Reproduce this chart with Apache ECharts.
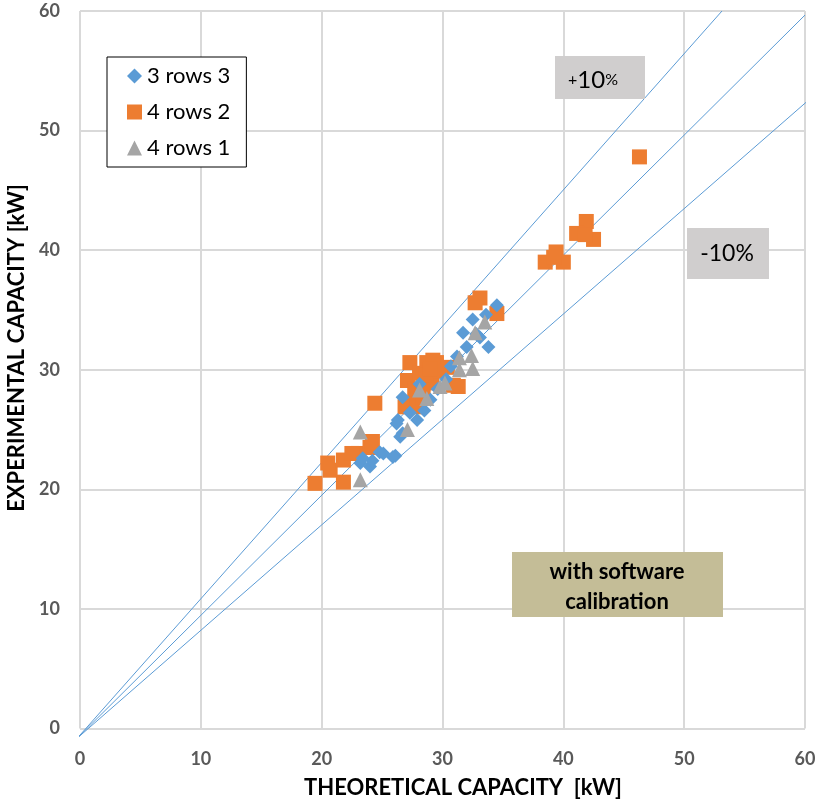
<!DOCTYPE html>
<html>
<head>
<meta charset="utf-8">
<script src="https://cdn.jsdelivr.net/npm/echarts@6/dist/echarts.min.js"></script>
<style>html,body{margin:0;padding:0;background:#fff}#c{width:820px;height:807px}</style>
</head>
<body>
<div id="c"></div>
<script>
// ---- data ----
var xTicks = [0, 10, 20, 30, 40, 50, 60];
var yTicks = [0, 10, 20, 30, 40, 50, 60];
var rows3_3 = [
  [23.2,22.2],[24.0,21.9],[24.8,23.1],[26.1,22.8],[26.3,25.8],[26.7,24.7],
  [26.2,25.5],[26.5,24.4],[27.3,26.4],[27.9,25.8],[26.7,27.7],[28.5,26.6],
  [29.0,27.5],[29.6,28.4],[30.3,29.2],[31.7,33.1],[33.8,31.9],[34.5,35.4],
  [32.5,34.2],[32.0,31.9],[33.1,32.7],[31.2,31.1],[25.1,23.0],[24.2,22.4],
  [23.4,22.6],[25.9,22.7],[28.1,28.8],[30.7,30.3],[33.6,34.6],[32.8,33.0]
];
var rows4_2 = [
  [19.45,20.5],[20.7,21.6],[20.5,22.2],[21.8,20.6],[21.8,22.45],[23.0,23.0],
  [24.0,23.5],[24.2,24.0],[22.5,23.0],[24.4,27.2],[27.3,30.6],[28.7,30.6],
  [29.5,30.6],[27.1,29.1],[31.3,28.6],[27.3,27.2],[27.9,27.7],[30.4,30.2],
  [29.1,28.9],[26.9,26.9],[27.9,26.9],[28.4,27.7],[29.2,30.8],[28.1,29.7],
  [28.6,29.6],[29.8,29.9],[27.7,28.4],[28.3,28.3],[30.9,28.7],[29.0,30.1],
  [33.1,36.0],[34.5,34.7],[32.7,35.6],[46.3,47.8],[41.9,42.4],[41.1,41.4],
  [42.5,40.9],[41.8,41.3],[39.4,39.85],[38.5,39.0],[40.0,39.0],[39.2,39.4]
];
var rows4_1 = [
  [23.2,24.8],[23.2,20.8],[27.1,25.0],[28.7,27.6],[29.8,28.6],[30.2,28.9],
  [31.4,30.0],[32.5,30.1],[32.4,31.2],[31.4,31.0],[32.7,33.1],[33.5,34.0],
  [28.1,28.3]
];
var linePlus10 = [[-0.22,-0.8],[53.13,60]];
var lineEqual  = [[-0.22,-0.8],[60,59.66]];
var lineMinus10 = [[-0.22,-0.8],[60.58,52.8]];
var xTitle = 'THEORETICAL CAPACITY  [kW]';
var yTitle = 'EXPERIMENTAL CAPACITY [kW]';

var chart = echarts.init(document.getElementById('c'));
var FONT = 'Lato';
var axisCommon = {
  min: 0, max: 60, interval: 10,
  axisLine: {show: false},
  axisTick: {show: false},
  splitLine: {show: true, lineStyle: {color: '#d9d9d9', width: 2}},
  axisLabel: {color: '#595959', fontWeight: 'bold', fontSize: 18, fontFamily: FONT}
};
function lineSeries(d) {
  return {type: 'line', data: d, symbol: 'none', silent: true, clip: false,
    lineStyle: {color: '#5b9bd5', width: 1}, z: 1, animation: false};
}
chart.setOption({
  animation: false,
  grid: {left: 80, right: 15, top: 11, bottom: 78.5, containLabel: false, outerBoundsMode: 'none'},
  xAxis: Object.assign({}, axisCommon, {
    type: 'value',
    axisLabel: Object.assign({}, axisCommon.axisLabel, {margin: 22})
  }),
  yAxis: Object.assign({}, axisCommon, {
    type: 'value',
    axisLabel: Object.assign({}, axisCommon.axisLabel, {margin: 20})
  }),
  legend: {
    data: ['3 rows 3', '4 rows 2', '4 rows 1'],
    orient: 'vertical', left: 107, top: 57,
    backgroundColor: '#fff', borderColor: '#000', borderWidth: 1,
    padding: [8, 16, 8, 20], itemGap: 14, itemWidth: 15, itemHeight: 15,
    textStyle: {fontSize: 22, fontFamily: FONT, color: '#000', lineHeight: 22}
  },
  graphic: [
    {type: 'text', x: 463, y: 788, z: 11, style: {
      text: xTitle, align: 'center', verticalAlign: 'middle',
      fontSize: 22, fontWeight: 'bold', fontFamily: FONT, fill: '#000'
    }},
    {type: 'text', x: 17, y: 348, rotation: Math.PI / 2, z: 11, style: {
      text: yTitle, align: 'center', verticalAlign: 'middle',
      fontSize: 22, fontWeight: 'bold', fontFamily: FONT, fill: '#000'
    }},
    {type: 'rect', shape: {x: 555, y: 56, width: 90, height: 43}, style: {fill: '#d0cece'}, z: 10},
    {type: 'text', x: 593, y: 80, z: 11, style: {
      text: '{s|+}{b|10}{s|%}', align: 'center', verticalAlign: 'middle',
      rich: {s: {fontSize: 16, fontFamily: FONT, fill: '#000'}, b: {fontSize: 24, fontFamily: FONT, fill: '#000'}}
    }},
    {type: 'rect', shape: {x: 687, y: 228, width: 82, height: 51}, style: {fill: '#d0cece'}, z: 10},
    {type: 'text', x: 727, y: 254, z: 11, style: {
      text: '-10%', align: 'center', verticalAlign: 'middle', fontSize: 23, fontFamily: FONT, fill: '#000'
    }},
    {type: 'rect', shape: {x: 512, y: 552, width: 211, height: 65}, style: {fill: '#c4bd97'}, z: 10},
    {type: 'text', x: 617, y: 587, z: 11, style: {
      text: 'with software\ncalibration', align: 'center', verticalAlign: 'middle',
      fontSize: 22, fontWeight: 'bold', fontFamily: FONT, fill: '#000', lineHeight: 30
    }}
  ],
  series: [
    lineSeries(linePlus10), lineSeries(lineEqual), lineSeries(lineMinus10),
    {name: '3 rows 3', type: 'scatter', data: rows3_3, symbol: 'diamond', symbolSize: 14,
      itemStyle: {color: '#5b9bd5', opacity: 1}, z: 3},
    {name: '4 rows 2', type: 'scatter', data: rows4_2, symbol: 'rect', symbolSize: 15,
      itemStyle: {color: '#ed7d31', opacity: 1}, z: 2},
    {name: '4 rows 1', type: 'scatter', data: rows4_1, symbol: 'triangle', symbolSize: 15,
      itemStyle: {color: '#a5a5a5', opacity: 1}, z: 4}
  ]
});
</script>
</body>
</html>
